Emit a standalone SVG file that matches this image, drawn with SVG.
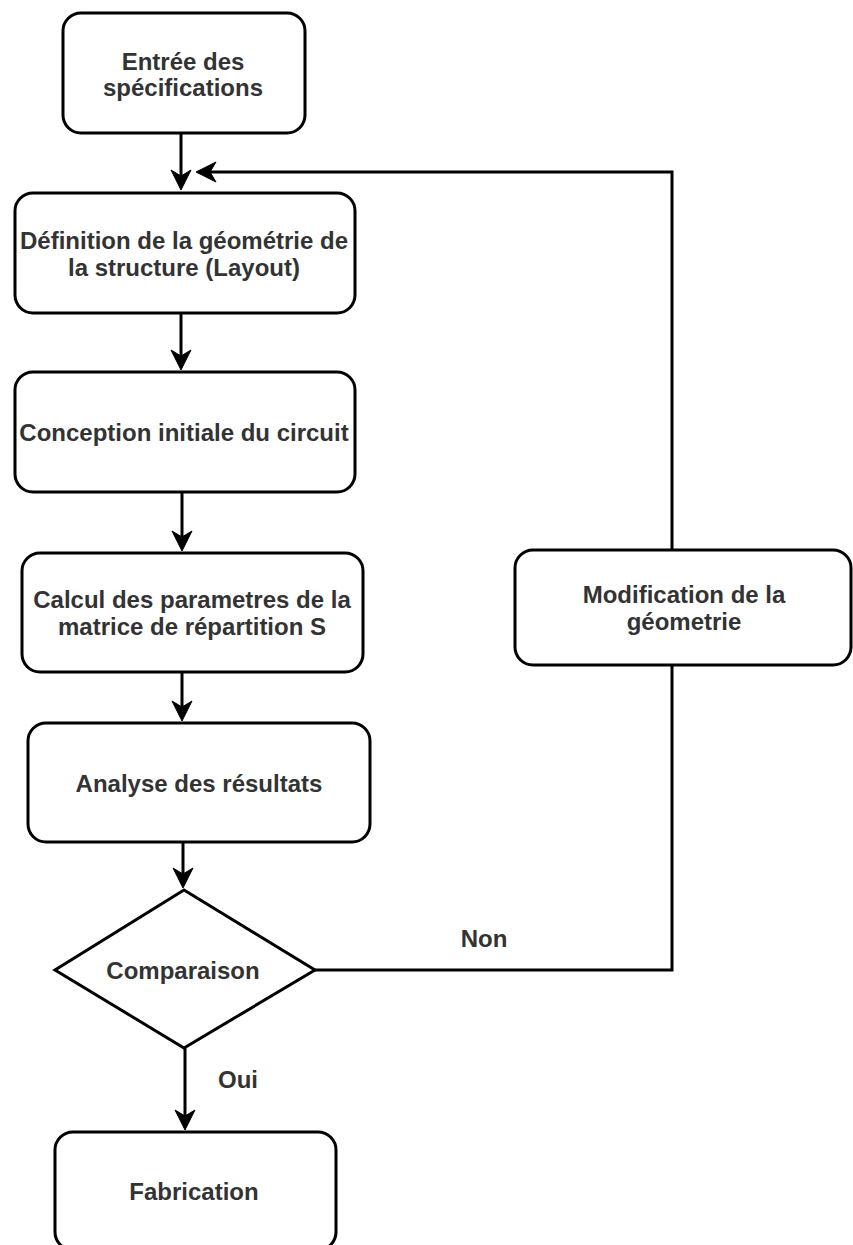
<svg xmlns="http://www.w3.org/2000/svg" width="853" height="1245" viewBox="0 0 853 1245">
<style>
.box{fill:#fff;stroke:#000;stroke-width:3}
.t{font-family:"Liberation Sans",Arial,sans-serif;font-size:24px;font-weight:bold;fill:#333;text-anchor:middle}
.c{fill:none;stroke:#000;stroke-width:3}
</style>
<defs>
<marker id="arr" markerUnits="userSpaceOnUse" markerWidth="22" markerHeight="22" refX="6" refY="10" orient="auto" overflow="visible">
<path d="M0,0 L20,10 L0,20 L6,10 Z" fill="#000" stroke="#000" stroke-width="1" stroke-linejoin="miter"/>
</marker>
</defs>
<rect width="853" height="1245" fill="#fff"/>
<g id="connectors">
<path class="c" d="M181,133 V176" marker-end="url(#arr)"/>
<path class="c" d="M181,313 V356" marker-end="url(#arr)"/>
<path class="c" d="M182,492 V537" marker-end="url(#arr)"/>
<path class="c" d="M182,672 V707" marker-end="url(#arr)"/>
<path class="c" d="M183,842 V874" marker-end="url(#arr)"/>
<path class="c" d="M185,1048 V1116" marker-end="url(#arr)"/>
<path class="c" d="M315,970 H672 V665"/>
<path class="c" d="M672,550 V172 H210" marker-end="url(#arr)"/>
<text class="t" x="484" y="947">Non</text>
<text class="t" x="238" y="1088">Oui</text>
</g>
<g id="n1">
<rect class="box" x="63" y="13" width="242" height="120" rx="18"/>
<text class="t" x="183" y="70">Entrée des</text>
<text class="t" x="183" y="96">spécifications</text>
</g>
<g id="n2">
<rect class="box" x="15" y="193" width="340" height="120" rx="18"/>
<text class="t" x="184" y="249">Définition de la géométrie de</text>
<text class="t" x="184" y="276">la structure (Layout)</text>
</g>
<g id="n3">
<rect class="box" x="15" y="372" width="340" height="120" rx="18"/>
<text class="t" x="184" y="441">Conception initiale du circuit</text>
</g>
<g id="n4">
<rect class="box" x="22" y="553" width="341" height="119" rx="18"/>
<text class="t" x="192" y="608">Calcul des parametres de la</text>
<text class="t" x="192" y="635">matrice de répartition S</text>
</g>
<g id="n5">
<rect class="box" x="28" y="723" width="342" height="119" rx="18"/>
<text class="t" x="199" y="792">Analyse des résultats</text>
</g>
<g id="n6">
<polygon class="box" points="184,890 315,970 184,1048 55,970"/>
<text class="t" x="183" y="979">Comparaison</text>
</g>
<g id="n7">
<rect class="box" x="55" y="1132" width="281" height="118" rx="18"/>
<text class="t" x="194" y="1200">Fabrication</text>
</g>
<g id="n8">
<rect class="box" x="515" y="550" width="336" height="115" rx="18"/>
<text class="t" x="684" y="603">Modification de la</text>
<text class="t" x="684" y="630">géometrie</text>
</g>
</svg>
